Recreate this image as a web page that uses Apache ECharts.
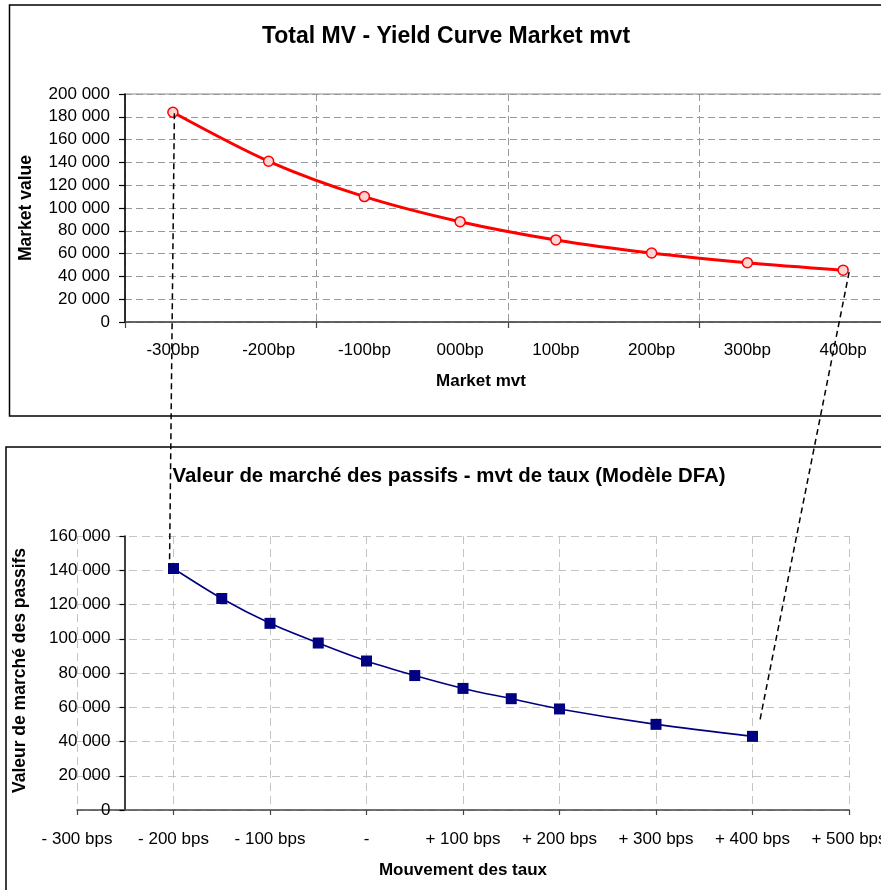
<!DOCTYPE html>
<html>
<head>
<meta charset="utf-8">
<script src="https://cdn.jsdelivr.net/npm/echarts@6/dist/echarts.min.js"></script>
<style>
html,body{margin:0;padding:0;background:#fff;overflow:hidden;width:881px;height:890px;}
#chart{width:910px;height:890px;}
</style>
</head>
<body>
<div id="chart"></div>
<script>
// ---- Top chart data ----
var topTitle = 'Total MV - Yield Curve Market mvt';
var topCategories = ['-300bp', '-200bp', '-100bp', '000bp', '100bp', '200bp', '300bp', '400bp'];
var topValues = [184000, 141000, 110000, 88000, 72000, 60500, 52000, 45500];
var topXName = 'Market mvt';
var topYName = 'Market value';

// ---- Bottom chart data ----
var bottomTitle = 'Valeur de marché des passifs - mvt de taux (Modèle DFA)';
var bottomX = [-200, -150, -100, -50, 0, 50, 100, 150, 200, 300, 400];
var bottomY = [141000, 123500, 109000, 97500, 87000, 78500, 71000, 65000, 59000, 50000, 43000];
var bottomTickValues = [-300, -200, -100, 0, 100, 200, 300, 400, 500];
var bottomTickLabels = ['- 300 bps', '- 200 bps', '- 100 bps', '-', '+ 100 bps', '+ 200 bps', '+ 300 bps', '+ 400 bps', '+ 500 bps'];
var bottomXName = 'Mouvement des taux';
var bottomYName = 'Valeur de marché des passifs';

var FONT = 'Liberation Sans, Arial, Helvetica, sans-serif';

function fmtThousands(v) {
  var s = String(Math.round(v));
  return s.replace(/\B(?=(\d{3})+(?!\d))/g, ' ');
}
function everyOther(index) { return index % 2 === 0; }

var bottomData = bottomX.map(function (x, i) { return [x, bottomY[i]]; });

var chart = echarts.init(document.getElementById('chart'), null, {renderer: 'canvas'});

var option = {
  animation: false,
  backgroundColor: '#fff',
  textStyle: {fontFamily: FONT},
  grid: [
    {left: 125, top: 94, width: 766, height: 228, show: true, borderColor: '#8c8c8c', borderWidth: 1.2, backgroundColor: 'transparent'},
    {left: 77, top: 536, width: 772, height: 274}
  ],
  xAxis: [
    {
      gridIndex: 0, type: 'category', data: topCategories, boundaryGap: true,
      axisLine: {lineStyle: {color: '#444', width: 1.5}},
      axisTick: {show: true, interval: everyOther, length: 6, lineStyle: {color: '#444', width: 1.2}},
      axisLabel: {interval: 0, fontSize: 17, color: '#000', margin: 20, fontFamily: FONT},
      splitLine: {show: true, interval: everyOther, lineStyle: {color: '#999', type: [7, 4], width: 1}},
      name: topXName, nameLocation: 'middle', nameGap: 51,
      nameTextStyle: {fontSize: 17, fontWeight: 'bold', color: '#000', fontFamily: FONT, padding: [0, 54, 0, 0]}
    },
    {
      gridIndex: 1, type: 'value', min: -300, max: 500, interval: 100,
      axisLine: {onZero: false, lineStyle: {color: '#444', width: 1.5}},
      axisTick: {show: true, length: 5, lineStyle: {color: '#444', width: 1.2}},
      axisLabel: {
        fontSize: 17, color: '#000', margin: 21, fontFamily: FONT, showMinLabel: true, showMaxLabel: true,
        formatter: function (v) { var i = bottomTickValues.indexOf(v); return i >= 0 ? bottomTickLabels[i] : ''; }
      },
      splitLine: {show: true, lineStyle: {color: '#c4c4c4', type: [8, 5], width: 1}},
      name: bottomXName, nameLocation: 'middle', nameGap: 52,
      nameTextStyle: {fontSize: 17, fontWeight: 'bold', color: '#000', fontFamily: FONT}
    }
  ],
  yAxis: [
    {
      gridIndex: 0, type: 'value', min: 0, max: 200000, interval: 20000,
      axisLine: {show: true, onZero: false, lineStyle: {color: '#000', width: 1.5}},
      axisTick: {show: true, length: 6, lineStyle: {color: '#000', width: 1.2}},
      axisLabel: {fontSize: 17, color: '#000', margin: 15, fontFamily: FONT, formatter: fmtThousands},
      splitLine: {show: true, lineStyle: {color: '#999', type: [7, 4], width: 1}},
      name: topYName, nameLocation: 'middle', nameGap: 90, nameRotate: 90,
      nameTextStyle: {fontSize: 17.5, fontWeight: 'bold', color: '#000', fontFamily: FONT}
    },
    {
      gridIndex: 1, type: 'value', min: 0, max: 160000, interval: 20000, offset: -47.5,
      axisLine: {show: true, onZero: false, lineStyle: {color: '#000', width: 1.5}},
      axisTick: {show: true, length: 5, lineStyle: {color: '#000', width: 1.2}},
      axisLabel: {fontSize: 17, color: '#000', margin: 14, fontFamily: FONT, formatter: fmtThousands},
      splitLine: {show: true, lineStyle: {color: '#c4c4c4', type: [8, 5], width: 1}},
      name: bottomYName, nameLocation: 'middle', nameGap: 95, nameRotate: 90,
      nameTextStyle: {fontSize: 17.5, fontWeight: 'bold', color: '#000', fontFamily: FONT, padding: [0, 0, 0, 5]}
    }
  ],
  series: [
    {
      type: 'line', xAxisIndex: 0, yAxisIndex: 0, data: topValues, smooth: 0.3,
      lineStyle: {color: '#ff0000', width: 3},
      symbol: 'circle', symbolSize: 10,
      itemStyle: {color: '#ffd4d4', borderColor: '#ff0000', borderWidth: 1.5},
      z: 3
    },
    {
      type: 'line', xAxisIndex: 1, yAxisIndex: 1, data: bottomData, smooth: 0.3,
      lineStyle: {color: '#000080', width: 1.6},
      symbol: 'rect', symbolSize: 11,
      itemStyle: {color: '#000080'},
      z: 3
    }
  ],
  graphic: [
    {type: 'rect', z: -10, shape: {x: 9.5, y: 5, width: 900, height: 411}, style: {fill: 'none', stroke: '#000', lineWidth: 1.5}},
    {type: 'rect', z: -10, shape: {x: 6, y: 447, width: 900, height: 470}, style: {fill: 'none', stroke: '#000', lineWidth: 1.5}},
    {type: 'text', x: 446, y: 36.5, style: {text: topTitle, font: 'bold 23px ' + FONT, fill: '#000', align: 'center', verticalAlign: 'middle'}},
    {type: 'text', x: 449, y: 476, style: {text: bottomTitle, font: 'bold 20.4px ' + FONT, fill: '#000', align: 'center', verticalAlign: 'middle'}}
  ]
};

chart.setOption(option);

// Dashed connectors between the two panels, anchored on the data points
var pTopL = chart.convertToPixel({gridIndex: 0}, [topCategories[0], topValues[0]]);
var pBotL = chart.convertToPixel({gridIndex: 1}, bottomData[0]);
var pTopR = chart.convertToPixel({gridIndex: 0}, [topCategories[topCategories.length - 1], topValues[topValues.length - 1]]);
var pBotR = chart.convertToPixel({gridIndex: 1}, bottomData[bottomData.length - 1]);

var connStyle = {stroke: '#000', lineWidth: 1.5, lineDash: [6, 4]};
option.graphic.push(
  {type: 'line', z: 100, shape: {x1: pTopL[0] + 1.5, y1: pTopL[1] + 1, x2: pBotL[0] - 4, y2: pBotL[1] - 1}, style: connStyle},
  {type: 'line', z: 100, shape: {x1: pTopR[0] + 6, y1: pTopR[1] + 2, x2: pBotR[0] + 7, y2: pBotR[1] - 14}, style: connStyle}
);
chart.setOption({graphic: option.graphic});
</script>
</body>
</html>
